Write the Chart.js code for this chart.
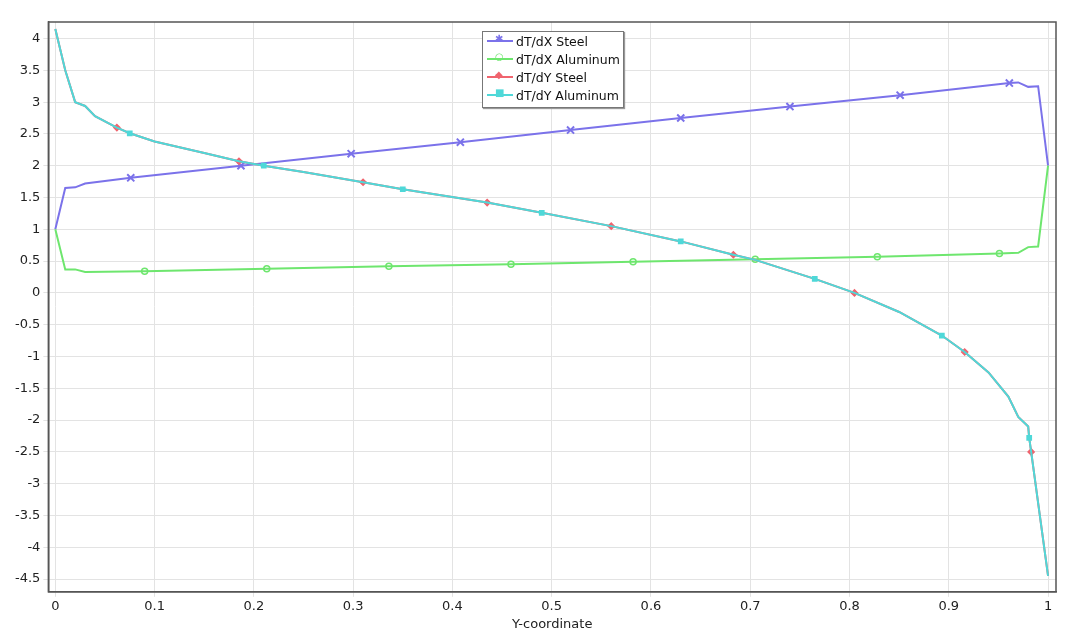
<!DOCTYPE html>
<html><head><meta charset="utf-8">
<script src="https://cdn.jsdelivr.net/npm/chart.js@4"></script>
<style>
body{margin:0;background:#fff;font-family:"DejaVu Sans",sans-serif}
#wrap{position:relative;width:1080px;height:642px}
#leg{position:absolute;left:482px;top:31px;width:140px;height:75px;border:1px solid #777;background:#fff;box-shadow:1px 1px 1px #999;font-size:12.5px;color:#111}
.row{display:flex;align-items:center;height:18px;margin-left:4px}
.sw{position:relative;width:26px;height:18px;margin-right:3px}
.sw i{position:absolute;left:0;right:0;top:8px;height:2px}
</style></head><body>
<div id="wrap"><canvas id="c" width="1080" height="642"></canvas>
<div id="leg"></div></div>
<script>
const seriesNames=["dT/dX Steel","dT/dX Aluminum","dT/dY Steel","dT/dY Aluminum"];
const colors=["#7b72ea","#6ee66e","#f0646e","#4fd8d8"];
const xTicks=[0,0.1,0.2,0.3,0.4,0.5,0.6,0.7,0.8,0.9,1];
const yTicks=[-4.5,-4,-3.5,-3,-2.5,-2,-1.5,-1,-0.5,0,0.5,1,1.5,2,2.5,3,3.5,4];
const xSteelX=[0,0.01,0.02,0.03,0.076,0.187,0.298,0.408,0.519,0.63,0.74,0.851,0.961,0.97,0.98,0.99,1.0];
const xSteelY=[1,1.65,1.66,1.72,1.81,2.0,2.19,2.37,2.56,2.75,2.93,3.11,3.30,3.31,3.24,3.25,2.0];
const xSteelMarks=[0.076,0.187,0.298,0.408,0.519,0.63,0.74,0.851,0.961];
const xAlX=[0,0.01,0.02,0.03,0.09,0.213,0.336,0.459,0.582,0.705,0.828,0.951,0.97,0.98,0.99,1.0];
const xAlY=[1,0.37,0.37,0.33,0.34,0.38,0.42,0.45,0.49,0.53,0.57,0.62,0.63,0.72,0.73,2.0];
const xAlMarks=[0.09,0.213,0.336,0.459,0.582,0.705,0.828,0.951];
const yX=[0,0.01,0.02,0.03,0.04,0.062,0.075,0.1,0.15,0.185,0.21,0.25,0.31,0.35,0.435,0.49,0.56,0.63,0.683,0.705,0.765,0.805,0.85,0.893,0.916,0.94,0.96,0.97,0.98,0.981,0.983,1.0];
const yY=[4.15,3.5,3.0,2.94,2.78,2.6,2.51,2.38,2.2,2.07,2.0,1.9,1.74,1.63,1.42,1.26,1.05,0.81,0.6,0.52,0.22,0,-0.3,-0.67,-0.93,-1.25,-1.63,-1.95,-2.1,-2.28,-2.5,-4.45];
const ySteelMarks=[0.062,0.185,0.31,0.435,0.56,0.683,0.805,0.916,0.983];
const yAlMarks=[0.075,0.21,0.35,0.49,0.63,0.765,0.893,0.981];
const styles=['crossRot','circle','rectRot','rect'];
const orders=[3,2,1,0];
function pts(xs,ys){return xs.map((x,i)=>({x:x,y:ys[i]}));}
function ds(i,xs,ys,marks){return{label:seriesNames[i],data:pts(xs,ys),order:orders[i],borderColor:colors[i],backgroundColor:i==1?'rgba(0,0,0,0)':colors[i],borderWidth:2,
 pointStyle:styles[i],pointBorderWidth:i==0?2:1.5,pointRadius:c=>marks.includes(c.raw.x)?(i==0?5:3):0,pointHoverRadius:0,tension:0};}
const data={datasets:[ds(0,xSteelX,xSteelY,xSteelMarks),ds(1,xAlX,xAlY,xAlMarks),ds(2,yX,yY,ySteelMarks),ds(3,yX,yY,yAlMarks)]};
const frame={id:'frame',afterDraw(ch){const a=ch.chartArea,c=ch.ctx;c.save();c.strokeStyle='#555';c.lineWidth=1.5;c.strokeRect(a.left,a.top,a.right-a.left,a.bottom-a.top);c.restore();}};
new Chart(document.getElementById('c'),{type:'line',data:data,plugins:[frame],options:{responsive:false,animation:false,
 layout:{padding:{top:22,right:24,left:12,bottom:6}},
 plugins:{legend:{display:false},tooltip:{enabled:false}},
 scales:{
  x:{type:'linear',min:-0.007,max:1.008,afterBuildTicks:s=>{s.ticks=xTicks.map(v=>({value:v}));},
   grid:{color:'#e3e3e3',tickLength:5},border:{color:'#555',width:1.5},
   ticks:{color:'#222',font:{size:13,family:'DejaVu Sans'},maxRotation:0,padding:2,callback:v=>String(v)},
   title:{display:true,text:'Y-coordinate',color:'#222',font:{size:13,family:'DejaVu Sans'},padding:{top:0}}},
  y:{type:'linear',min:-4.7,max:4.26,afterBuildTicks:s=>{s.ticks=yTicks.map(v=>({value:v}));},
   grid:{color:'#e3e3e3',tickLength:5},border:{color:'#555',width:1.5},
   ticks:{color:'#222',font:{size:13,family:'DejaVu Sans'},padding:3,callback:v=>String(v)}}
 }}});
const leg=document.getElementById('leg');
const glyph=['✱','○','◆','■'];
seriesNames.forEach((n,i)=>{const r=document.createElement('div');r.className='row';
 r.innerHTML='<div class="sw"><i style="background:'+colors[i]+'"></i><span style="position:absolute;left:8px;top:1px;font-size:10px;color:'+colors[i]+'">'+glyph[i]+'</span></div>'+n;leg.appendChild(r);});
</script></body></html>
